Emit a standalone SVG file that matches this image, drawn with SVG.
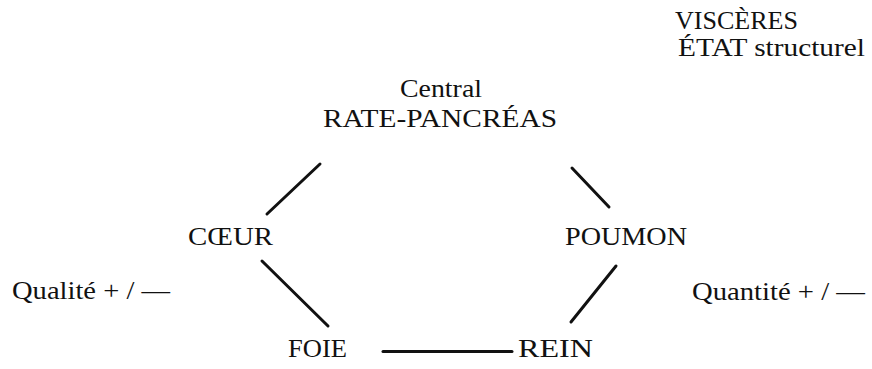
<svg xmlns="http://www.w3.org/2000/svg" width="872" height="369" viewBox="0 0 872 369">
<style>
text{font-family:"Liberation Serif","Times New Roman",serif;font-size:26px;fill:#111;}
.c line{stroke:#111;stroke-width:3;stroke-linecap:round;}
</style>
<rect width="872" height="369" fill="#fff"/>
<g id="title">
<text x="675" y="29" textLength="123" lengthAdjust="spacingAndGlyphs">VISCÈRES</text>
<text x="678" y="56" textLength="187" lengthAdjust="spacingAndGlyphs">ÉTAT structurel</text>
</g>
<g id="central"><text x="400" y="97" textLength="82" lengthAdjust="spacingAndGlyphs">Central</text></g>
<g id="rate-pancreas"><text x="323" y="127" textLength="234" lengthAdjust="spacingAndGlyphs">RATE-PANCRÉAS</text></g>
<g id="coeur"><text x="188" y="245" textLength="85" lengthAdjust="spacingAndGlyphs">CŒUR</text></g>
<g id="poumon"><text x="565" y="245" textLength="122" lengthAdjust="spacingAndGlyphs">POUMON</text></g>
<g id="foie"><text x="288" y="357" textLength="59" lengthAdjust="spacingAndGlyphs">FOIE</text></g>
<g id="rein"><text x="518" y="357" textLength="75" lengthAdjust="spacingAndGlyphs">REIN</text></g>
<g id="qualite"><text x="12" y="299" textLength="158" lengthAdjust="spacingAndGlyphs">Qualité + / —</text></g>
<g id="quantite"><text x="692" y="300" textLength="173" lengthAdjust="spacingAndGlyphs">Quantité + / —</text></g>
<g id="connectors" class="c">
<line x1="320" y1="164" x2="267" y2="214"/>
<line x1="572" y1="168" x2="609" y2="207"/>
<line x1="262" y1="261" x2="328" y2="326"/>
<line x1="616" y1="266" x2="571" y2="322"/>
<line x1="383" y1="351.5" x2="512" y2="351.5"/>
</g>
</svg>
